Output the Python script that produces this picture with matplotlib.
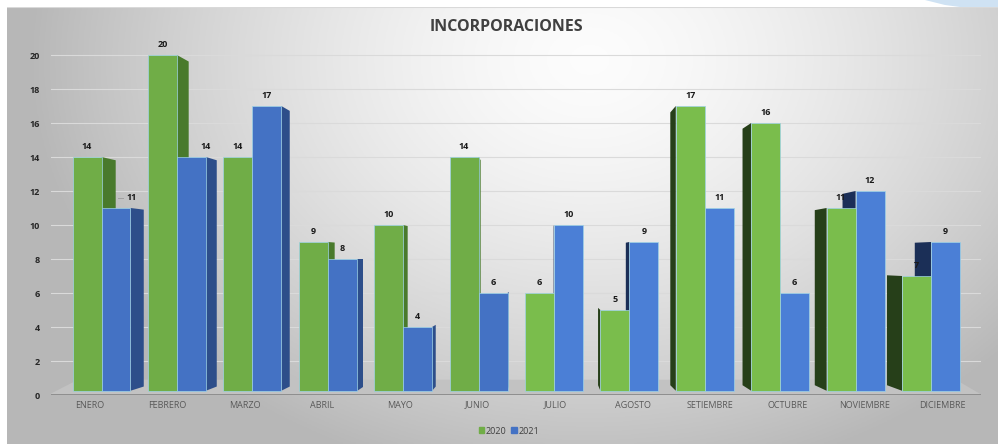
import numpy as np
import matplotlib
matplotlib.use("Agg")
import matplotlib.pyplot as plt
from matplotlib.patches import Polygon

plt.rcParams['font.family'] = ['Open Sans', 'DejaVu Sans']

months = ["ENERO", "FEBRERO", "MARZO", "ABRIL", "MAYO", "JUNIO", "JULIO",
          "AGOSTO", "SETIEMBRE", "OCTUBRE", "NOVIEMBRE", "DICIEMBRE"]
values_2020 = [14, 20, 14, 9, 10, 14, 6, 5, 17, 16, 11, 7]
values_2021 = [11, 14, 17, 8, 4, 6, 10, 9, 11, 6, 12, 9]
series_names = ["2020", "2021"]
yticks = list(range(0, 21, 2))

W, H = 998, 444
fig = plt.figure(figsize=(W / 100, H / 100), dpi=100)

# background: radial grey gradient like the slide chart area
bg = fig.add_axes([7 / W, 0, 1 - 7 / W, 1 - 7 / H])
bg.set_axis_off()
gx, gy = np.meshgrid(np.linspace(7, W, 400), np.linspace(7, H, 200))
dist = np.sqrt(((gx - 590) / 560) ** 2 + ((gy - 60) / 430) ** 2)
t = np.clip(dist, 0, 1) ** 1.5
shade = 0.99 * (1 - t) + 0.72 * t
bg.imshow(np.dstack([shade] * 3), extent=[0, 1, 0, 1], aspect='auto', origin='upper')
bg.set_xlim(0, 1)
bg.set_ylim(0, 1)
bg.axhline(1, color='#d9d9d9', lw=1.5)

# light blue slide decoration, top right corner
deco = fig.add_axes([0, 0, 1, 1], zorder=-1)
deco.set_axis_off()
deco.set_xlim(0, W)
deco.set_ylim(H, 0)
deco.add_patch(Polygon([(925, 0), (998, 0), (998, 14), (975, 9), (945, 5)],
                       closed=True, color='#cfe2f3', lw=0))

ax = fig.add_axes([51.25 / W, 49 / H, 930 / W, 357 / H])
ax.set_facecolor('none')
ax.set_xlim(-0.5, 11.5)
ax.set_ylim(0, 21)
for s in ax.spines.values():
    s.set_visible(False)

for yv in yticks[1:]:
    ax.plot([-0.52, 11.5], [yv, yv], color='#dadada', lw=0.8, zorder=0)

n = len(months)
idx = np.arange(n)
vp_x, vp_y = 5.87, 8.0
k_left, k_right = 0.032, 0.042
bar_w = 0.374
base = 0.25

# floor
fl_front = [-0.54, 11.51]
fl_back = [x + (vp_x - x) * 0.06 for x in fl_front]
ax.add_patch(Polygon([(fl_front[0], 0), (fl_front[1], 0), (fl_back[1], 0.9), (fl_back[0], 0.9)],
                     closed=True, color='#c2c2c2', lw=0, zorder=1))
ax.plot(fl_front, [0, 0], color='#7f7f7f', lw=1.8, zorder=1.5, solid_capstyle='butt')


def draw_bar(x0, x1, h, front, side, z):
    ax.bar((x0 + x1) / 2, h - base, width=x1 - x0, bottom=base, color=front,
           edgecolor='#9fd3e6', linewidth=0.5, zorder=z + 0.5)
    if x1 < vp_x:
        k = k_left
        xb = x1 + (vp_x - x1) * k
        xe = x1
    elif x0 > vp_x:
        k = k_right
        xb = x0 - (x0 - vp_x) * k
        xe = x0
    else:
        return
    pts = [(xe, base), (xe, h), (xb, h + (vp_y - h) * k), (xb, base + (vp_y - base) * k)]
    ax.add_patch(Polygon(pts, closed=True, facecolor=side, edgecolor='none', zorder=z))


label_nudge = {(0, 1): 11, (1, 1): 10}  # points, labels moved right in the original

for i in idx:
    p = 5.5 + (i - 5.5) * 0.973
    right_group = p > vp_x
    if right_group:
        g_front, g_side, b_front, b_side = '#7abd4c', '#263f19', '#4b7fd6', '#1b2f57'
        zg, zb = 4, 2
    else:
        g_front, g_side, b_front, b_side = '#70ad47', '#497a2c', '#4472c4', '#2d4e8a'
        zg, zb = 2, 4
    draw_bar(p - bar_w, p, values_2020[i], g_front, g_side, zg)
    draw_bar(p, p + bar_w, values_2021[i], b_front, b_side, zb)
    for j, (xc, v) in enumerate([(p - bar_w / 2, values_2020[i]), (p + bar_w / 2, values_2021[i])]):
        dx = label_nudge.get((i, j), 0)
        ax.annotate(str(v), (xc, v), xytext=(dx, 7.5), textcoords='offset points',
                    ha='center', va='center', fontsize=6.5, fontweight='bold',
                    color='#1a1a1a', zorder=10, annotation_clip=False)

# leader line of the moved ENERO 2021 label
ax.plot([0.36, 0.43], [11.6, 11.6], color='#a0a0a0', lw=0.7, zorder=10)

ax.set_yticks(yticks)
ax.set_yticklabels([str(v) for v in yticks], fontsize=6.5, fontweight='bold', color='#262626')
ax.set_xticks(idx)
ax.set_xticklabels(months, fontsize=6.5, color='#595959')
ax.tick_params(axis='both', length=0)
ax.tick_params(axis='y', pad=8)
ax.tick_params(axis='x', pad=4)

fig.text(506 / W, 1 - 27 / H, "INCORPORACIONES", ha='center', va='center',
         fontsize=11.5, fontweight='bold', color='#404040')

handles = [plt.Rectangle((0, 0), 1, 1, color='#70ad47'), plt.Rectangle((0, 0), 1, 1, color='#4472c4')]
fig.legend(handles, series_names, loc='center', bbox_to_anchor=(509 / W, 1 - 431 / H), ncol=2,
           frameon=False, fontsize=6.5, handlelength=0.6, handleheight=0.6,
           handletextpad=0.2, columnspacing=0.5, labelcolor='#404040')

fig.savefig("out.png", dpi=100)
